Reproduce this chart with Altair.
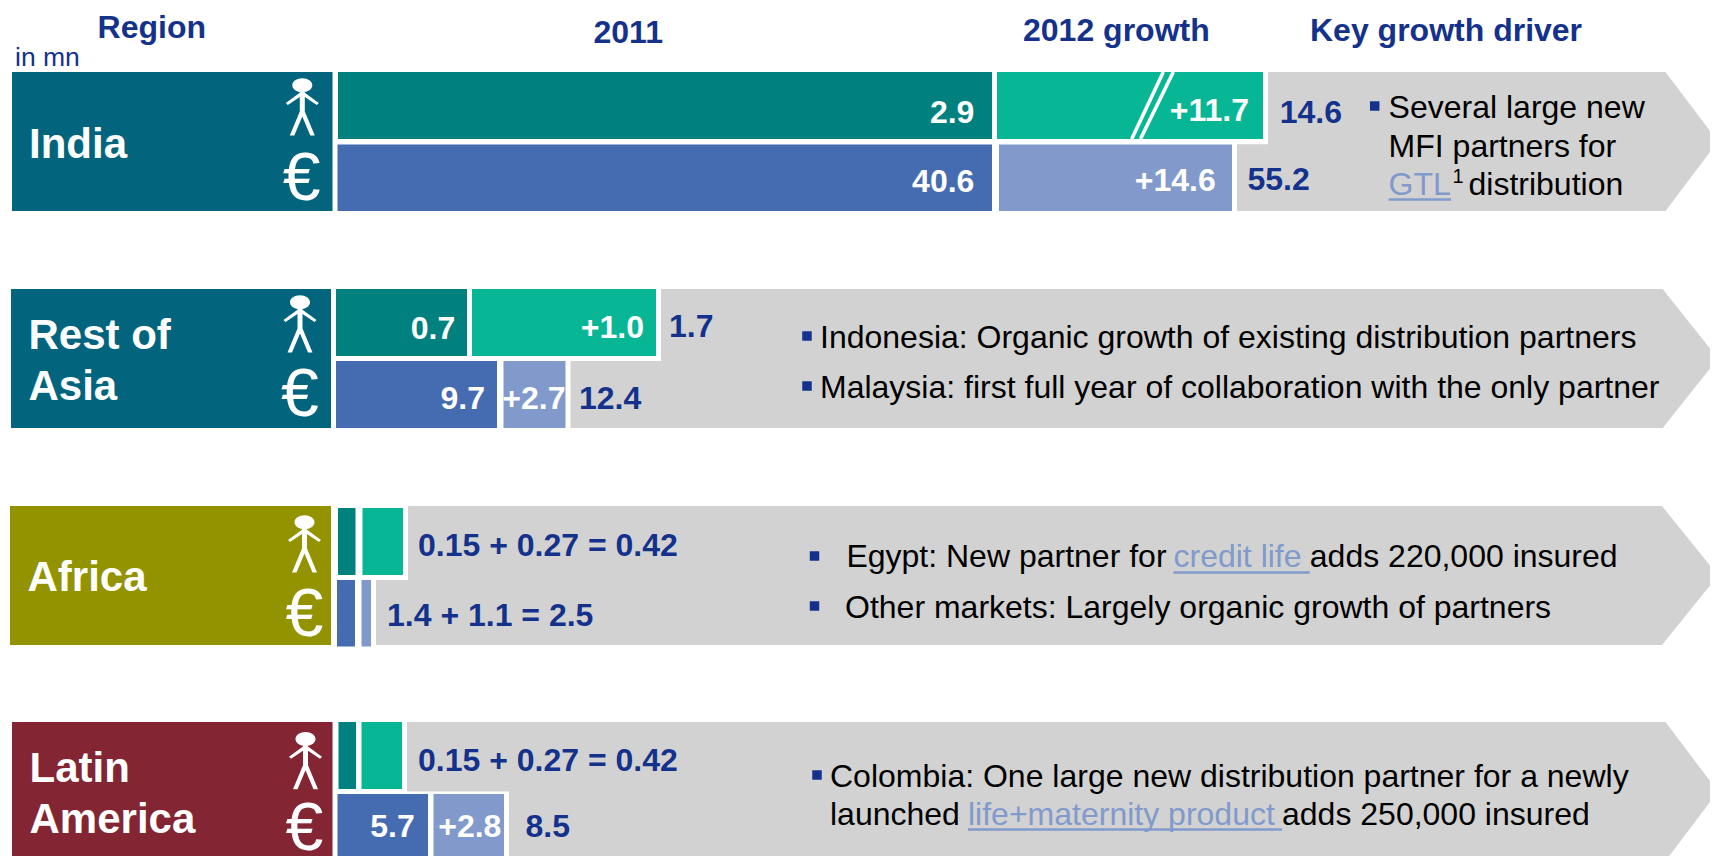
import altair as alt
import pandas as pd

# ---------- content ----------
regions = ["India", "Rest of Asia", "Africa", "Latin America"]
people_2011 = ["2.9", "0.7", "", ""]
people_growth = ["+11.7", "+1.0", "", ""]
people_total = ["14.6", "1.7", "0.15 + 0.27 = 0.42", "0.15 + 0.27 = 0.42"]
euro_2011 = ["40.6", "9.7", "", "5.7"]
euro_growth = ["+14.6", "+2.7", "", "+2.8"]
euro_total = ["55.2", "12.4", "1.4 + 1.1 = 2.5", "8.5"]
headers = ["Region", "2011", "2012 growth", "Key growth driver"]

# drawn bar lengths (the chart's axis is broken, so not to one scale)
people_len_2011 = [654, 131, 17.5, 17.5]
people_len_growth = [266, 184, 40.5, 40.5]
euro_len_2011 = [654.5, 161, 18, 90.5]
euro_len_growth = [233, 62, 9.5, 70.5]

# ---------- layout ----------
NAVY, LINK, WHITE, BLACK = "#14328C", "#819ACB", "#FFFFFF", "#000000"
TEAL, GREEN, BLUE, LIGHT, GREY = "#00807F", "#06B695", "#456BB0", "#819ACB", "#D2D2D2"
label_colors = ["#02657D", "#02657D", "#939300", "#832532"]
label_left = [12, 11, 10, 12]
label_right = [332.5, 331, 331, 332.5]
block_top = [72, 289, 506, 722]
block_bottom = [211, 428, 645, 861]
people_top = [72, 289, 508, 722]
people_bottom = [139, 356, 575, 789]
euro_top = [144.5, 361, 580, 794]
euro_bottom = [211, 428, 646.5, 861]
people_start = [338, 336, 338, 338.5]
euro_start = [337.5, 336, 337, 337.5]
people_growth_start = [997, 472, 362.5, 361.5]
euro_growth_start = [999, 503.5, 361.5, 433.5]
shoulder = [1665.5, 1662.7, 1662, 1665.5]
tip = 1718

sx = alt.Scale(domain=[8, 1710])
sy = alt.Scale(domain=[856, 8])


def X(f):
    return alt.X(f, type="quantitative", scale=sx, axis=None)


def Y(f):
    return alt.Y(f, type="quantitative", scale=sy, axis=None)


X2 = lambda f: alt.X2(f)
Y2 = lambda f: alt.Y2(f)

# arrows
arrow_rows = []
for i in range(4):
    mid = (block_top[i] + block_bottom[i]) / 2
    arrow_rows += [
        dict(b=i, x=label_right[i], y=block_top[i], y2=block_bottom[i]),
        dict(b=i, x=shoulder[i], y=block_top[i], y2=block_bottom[i]),
        dict(b=i, x=tip, y=mid, y2=mid),
    ]
arrows = alt.Chart(pd.DataFrame(arrow_rows)).mark_area(
    color=GREY, orient="vertical", clip=True
).encode(x=X("x"), y=Y("y"), y2=Y2("y2"), detail="b:N")

# bars and the white notches that surround them
bars, back = [], []
for i in range(4):
    p1 = people_start[i] + people_len_2011[i]
    p2 = people_growth_start[i] + people_len_growth[i]
    e1 = euro_start[i] + euro_len_2011[i]
    e2 = euro_growth_start[i] + euro_len_growth[i]
    split = (people_bottom[i] + euro_top[i]) / 2
    back.append(dict(x=label_right[i], x2=p2 + 5, y=block_top[i], y2=split + 2.5))
    back.append(dict(x=label_right[i], x2=e2 + 5, y=split, y2=block_bottom[i] + 3))
    bars += [
        dict(x=people_start[i], x2=p1, y=people_top[i], y2=people_bottom[i], c=TEAL),
        dict(x=people_growth_start[i], x2=p2, y=people_top[i], y2=people_bottom[i], c=GREEN),
        dict(x=euro_start[i], x2=e1, y=euro_top[i], y2=euro_bottom[i], c=BLUE),
        dict(x=euro_growth_start[i], x2=e2, y=euro_top[i], y2=euro_bottom[i], c=LIGHT),
    ]
    bars.append(dict(x=label_left[i], x2=label_right[i], y=block_top[i], y2=block_bottom[i], c=label_colors[i]))


def rects(rows):
    return alt.Chart(pd.DataFrame(rows)).mark_rect(clip=True).encode(
        x=X("x"), x2=X2("x2"), y=Y("y"), y2=Y2("y2"),
        color=alt.Color("c:N", scale=None),
    )


backing = rects([dict(r, c=WHITE) for r in back])
bar_layer = rects(bars)

# axis-break slashes in the India people bar
slashes = alt.Chart(pd.DataFrame([
    dict(x=1163.3, x2=1131.7, y=72, y2=139),
    dict(x=1173.3, x2=1140.5, y=72, y2=139),
])).mark_rule(color=WHITE, strokeWidth=3.6).encode(x=X("x"), x2=X2("x2"), y=Y("y"), y2=Y2("y2"))

# link underlines
underlines = alt.Chart(pd.DataFrame([
    dict(x=1388.6, x2=1451, y=199.5),
    dict(x=1173.5, x2=1309.8, y=572.5),
    dict(x=968, x2=1282, y=829.5),
])).mark_rule(color=LINK, strokeWidth=2.5).encode(x=X("x"), x2=X2("x2"), y=Y("y"))

# bullets
bullets = alt.Chart(pd.DataFrame([
    dict(x=1374.7, y=106), dict(x=807, y=336), dict(x=807, y=386),
    dict(x=814.5, y=556), dict(x=814.5, y=606), dict(x=817, y=775),
])).mark_point(shape="square", filled=True, color=NAVY, size=90, opacity=1).encode(x=X("x"), y=Y("y"))

# person pictograms and euro signs
PERSON = (
    "M-10,-24.3 a10,7 0 1,0 20,0 a10,7 0 1,0 -20,0 Z "
    "M-2.5,-18 L-2.5,-16.8 L-16.5,-6.5 L-14.5,-4.5 L-2.5,-12.5 L-2.5,2 L-12.5,26 L-8,26 L0,7 "
    "L8,26 L12.5,26 L2.5,2 L2.5,-12.5 L14.5,-4.5 L16.5,-6.5 L2.5,-16.8 L2.5,-18 Z"
)
person_x = [302.3, 300, 304.5, 305.5]
person_y = [109.6, 326.6, 546.6, 763.3]
people_icons = alt.Chart(pd.DataFrame({"x": person_x, "y": person_y})).mark_point(
    shape=PERSON, filled=True, color=WHITE, size=4, opacity=1
).encode(x=X("x"), y=Y("y"))


def texts(rows, size, color, weight="normal", align="left"):
    return alt.Chart(pd.DataFrame(rows, columns=["t", "x", "y"])).mark_text(
        font="Liberation Sans", fontSize=size, color=color, fontWeight=weight,
        align=align, baseline="alphabetic",
    ).encode(x=X("x"), y=Y("y"), text="t:N")


layers = [arrows, backing, bar_layer, slashes, underlines, bullets, people_icons]

layers.append(texts([("€", x, y) for x, y in zip([301.7, 300, 304.5, 304.5], [200, 416, 636, 850])],
                    68, WHITE, align="center"))

layers.append(texts([
    (regions[0], 29, 158), ("Rest of", 28.5, 349), ("Asia", 28.5, 400),
    (regions[2], 27.5, 591), ("Latin", 29.5, 782), ("America", 29.5, 833),
], 42, WHITE, "bold"))

layers.append(texts([
    (headers[0], 97.6, 38.2), (headers[1], 593.5, 42.7), (headers[2], 1023, 41), (headers[3], 1310, 41),
], 32, NAVY, "bold"))
layers.append(texts([("in mn", 15, 65.7)], 26.5, NAVY))

layers.append(texts([
    (people_2011[0], 974.4, 122.7), (people_growth[0], 1249, 120.7),
    (euro_2011[0], 974.4, 191.7), (euro_growth[0], 1215.7, 191.3),
    (people_2011[1], 455.3, 339.3), (people_growth[1], 644, 338),
    (euro_2011[1], 485, 408.7), (euro_growth[1], 565.5, 408.7),
    (euro_2011[3], 414.7, 836.7), (euro_growth[3], 501.4, 836.7),
], 32, WHITE, "bold", "right"))

layers.append(texts([
    (people_total[0], 1279.7, 122.7), (euro_total[0], 1247.4, 189.7),
    (people_total[1], 669, 337), (euro_total[1], 579, 408.7),
    (people_total[2], 418, 556.3), (euro_total[2], 387, 626.3),
    (people_total[3], 418, 771.3), (euro_total[3], 525.5, 837),
], 32, NAVY, "bold"))

layers.append(texts([
    ("Several large new", 1388.6, 118.3), ("MFI partners for", 1388.6, 157), ("distribution", 1468.5, 195.3),
    ("Indonesia: Organic growth of existing distribution partners", 820, 347.7),
    ("Malaysia: first full year of collaboration with the only partner", 820, 397.7),
    ("Egypt: New partner for", 846.4, 567.3), ("adds 220,000 insured", 1309.8, 567.3),
    ("Other markets: Largely organic growth of partners", 845, 617.7),
    ("Colombia: One large new distribution partner for a newly", 830, 787),
    ("launched", 830, 825), ("adds 250,000 insured", 1282, 825),
], 32, BLACK))
layers.append(texts([("1", 1452.6, 183)], 20, BLACK))
layers.append(texts([
    ("GTL", 1388.6, 195.3), ("credit life", 1173.5, 567.3), ("life+maternity product", 968, 825),
], 32, LINK))

chart = alt.layer(*layers).properties(
    width=1702, height=848, padding=0,
    autosize=alt.AutoSizeParams(type="none"), background="#FFFFFF",
).configure_view(stroke=None)

chart.save("out.html", embed_options={"renderer": "svg", "actions": False})
